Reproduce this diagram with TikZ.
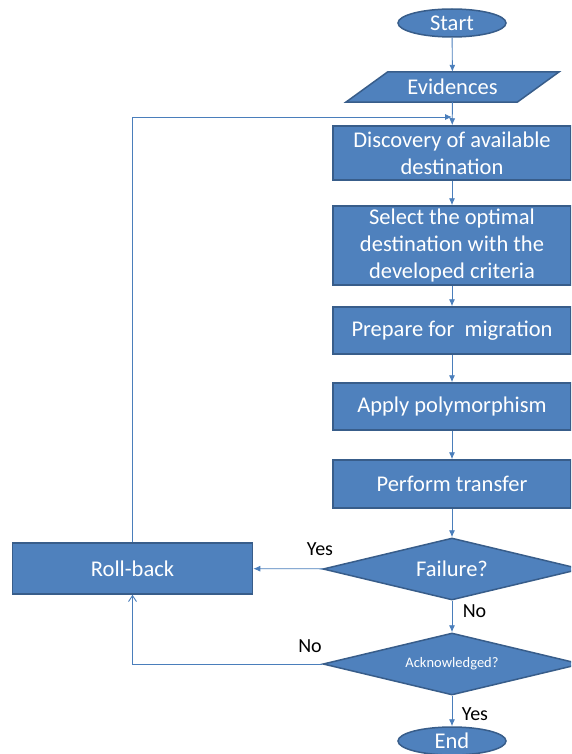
\documentclass[tikz,border=0pt]{standalone}
\usepackage{fontspec}
\setmainfont{Carlito}
\usetikzlibrary{shapes, arrows.meta, positioning, calc, backgrounds}
\definecolor{boxfill}{HTML}{4F81BD}
\definecolor{boxline}{HTML}{385D8A}
\definecolor{flowline}{HTML}{4A7EBB}
\tikzset{
    block/.style={
        rectangle, draw=boxline, fill=boxfill, line width=1.5pt,
        text=white, align=center, inner sep=0pt,
        minimum width=238pt, font=\fontsize{22.5}{27}\selectfont
    },
    terminal/.style={ellipse, draw=boxline, fill=boxfill, line width=1.5pt, text=white, inner sep=0pt, minimum width=108pt, minimum height=28pt, font=\fontsize{22.5}{27}\selectfont},
    io/.style={rectangle, text=white, inner sep=0pt, minimum width=171pt, minimum height=30pt, font=\fontsize{22.5}{27}\selectfont},
    iobox/.style={draw=boxline, fill=boxfill, line width=1.5pt, line join=miter},
    decision/.style={diamond, aspect=4.16, draw=boxline, fill=boxfill, line width=1.5pt, text=white, inner sep=0pt, minimum width=258pt, minimum height=62pt, font=\fontsize{22.5}{27}\selectfont},
    answer/.style={font=\fontsize{20}{24}\selectfont, inner sep=0pt},
    line/.style={draw=flowline, line width=0.9pt, -{Latex[length=7pt,width=6pt]}},
    openline/.style={draw=flowline, line width=0.9pt, -{Straight Barb[length=6pt,width=8pt]}}
}
\begin{document}
\begin{tikzpicture}[x=1pt, y=-1pt]
    \useasboundingbox (0,0) rectangle (571,754);
    \clip (0,0) rectangle (571,754);
    % Nodes
    \node [terminal] (start) at (452,23) {Start};
    \node [io] (evidences) at (452.5,87) {Evidences};
    \node [block, minimum height=54pt] (discovery) at (452,153) {Discovery of available\\destination};
    \node [block, minimum height=79pt] (select) at (452,245.5) {Select the optimal\\destination with the\\developed criteria};
    \node [block, minimum height=47pt] (prepare) at (452,330.5) {Prepare for\ \ migration};
    \node [block, minimum height=47pt] (apply) at (452,406.5) {Apply polymorphism};
    \node [block, minimum height=48pt] (transfer) at (452,484) {Perform transfer};
    \node [decision] (failure) at (452,569) {Failure?};
    \node [block, minimum width=240pt, minimum height=51pt] (rollback) at (132.5,568.5) {Roll-back};
    \node [decision, font=\fontsize{14.5}{17}\selectfont] (ack) at (452,664) {Acknowledged?};
    \node [terminal] (end) at (452,741) {End};
    \coordinate (merge) at (452,117);

    % parallelogram behind the input node
    \begin{scope}[on background layer]
        \draw [iobox] ($(evidences.north west)+(21,0)$) -- ($(evidences.north east)+(21,0)$)
            -- ($(evidences.south east)+(-21,0)$) -- ($(evidences.south west)+(-21,0)$) -- cycle;
    \end{scope}

    % Edges
    \draw [line] (start) -- (evidences);
    \draw [line] (evidences) -- (discovery);
    \draw [line] (discovery) -- (select);
    \draw [line] (select) -- (prepare);
    \draw [line] (prepare) -- (apply);
    \draw [line] (apply) -- (transfer);
    \draw [line] (transfer) -- (failure);
    \draw [line] (failure) -- (rollback);
    \draw [line] (failure) -- (ack);
    \draw [line] (ack) -- (end);
    \draw [line] (rollback.north) |- (merge);
    \draw [openline] (ack.west) -| (rollback.south);

    % Answers
    \node [answer] (yes1) at (320,549) {Yes};
    \node [answer] (no1) at (474.5,611) {No};
    \node [answer] (no2) at (310,646) {No};
    \node [answer] (yes2) at (475,714) {Yes};
\end{tikzpicture}
\end{document}
